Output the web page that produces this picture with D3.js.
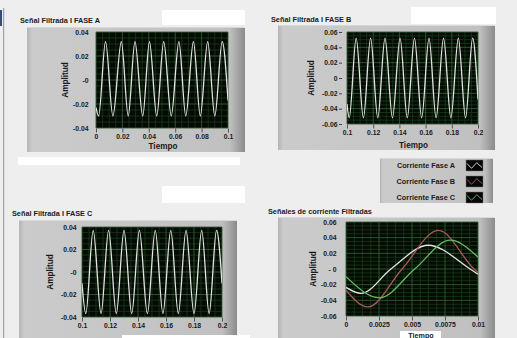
<!DOCTYPE html>
<html><head><meta charset="utf-8">
<script src="https://cdn.jsdelivr.net/npm/d3@7"></script>
<style>
body{margin:0;background:#eeeeee;}
svg{display:block;}
text{font-family:"Liberation Sans",Arial,sans-serif;font-weight:bold;fill:#1a1a1a;}
</style></head>
<body><svg id="c" width="517" height="338"></svg>
<script>
// ---------- DATA ----------
const titles = ["Señal Filtrada I FASE A","Señal Filtrada I FASE B","Señal Filtrada I FASE C","Señales de corriente Filtradas"];
const xLabelText = "Tiempo";
const yLabelText = "Amplitud";

const xTicksA = [0,0.02,0.04,0.06,0.08,0.1];
const xTickLabelsA = ["0","0.02","0.04","0.06","0.08","0.1"];
const yTicksA = [0.04,0.02,0,-0.02,-0.04];
const yTickLabelsA = ["0.04","0.02","-0","-0.02","-0.04"];

const xTicksBC = [0.1,0.12,0.14,0.16,0.18,0.2];
const xTickLabelsBC = ["0.1","0.12","0.14","0.16","0.18","0.2"];
const yTicksB = [0.06,0.04,0.02,0,-0.02,-0.04,-0.06];
const yTickLabelsB = ["0.06","0.04","0.02","0","-0.02","-0.04","-0.06"];
const yTicksC = [0.04,0.02,0,-0.02,-0.04];
const yTickLabelsC = ["0.04","0.02","-0","-0.02","-0.04"];

const xTicksD = [0,0.0025,0.005,0.0075,0.01];
const xTickLabelsD = ["0","0.0025","0.005","0.0075","0.01"];
const yTicksD = [0.06,0.04,0.02,0,-0.02,-0.04,-0.06];
const yTickLabelsD = ["0.06","0.04","0.02","- 0","-0.02","-0.04","-0.06"];

// Fase A (peaks / troughs)
const timeA = [0,0.002,0.0072,0.0128,0.0192,0.0244,0.0295,0.0354,0.0405,0.046,0.0513,0.057,0.0628,0.068,0.0738,0.079,0.0846,0.090,0.0956,0.1];
const valA  = [-0.023,-0.030,0.032,-0.030,0.032,-0.030,0.032,-0.030,0.032,-0.030,0.032,-0.030,0.032,-0.030,0.032,-0.030,0.032,-0.030,0.032,-0.017];
// Fase B
const timeB = [0.1,0.1017,0.107,0.1125,0.118,0.1235,0.129,0.1347,0.1405,0.146,0.1515,0.157,0.1626,0.168,0.1737,0.1793,0.185,0.1905,0.1959,0.2];
const valB  = [-0.034,-0.052,0.052,-0.052,0.052,-0.052,0.052,-0.052,0.052,-0.052,0.052,-0.052,0.052,-0.052,0.052,-0.052,0.052,-0.052,0.052,-0.028];
// Fase C
const timeC = [0.1,0.1027,0.108,0.1136,0.119,0.1245,0.130,0.1355,0.141,0.1467,0.1523,0.1578,0.1634,0.1688,0.1743,0.18,0.1855,0.1908,0.1961,0.2];
const valC  = [-0.010,-0.037,0.037,-0.037,0.037,-0.037,0.037,-0.037,0.037,-0.037,0.037,-0.037,0.037,-0.037,0.037,-0.037,0.037,-0.037,0.037,-0.010];
// Combined (one cycle)
const timeDA = [0,0.00115,0.0034,0.00623,0.0094,0.01];
const valDA  = [-0.0235,-0.0312,0,0.0303,0,-0.0067];
const timeDB = [0,0.00165,0.00425,0.0070,0.0097,0.01];
const valDB  = [-0.027,-0.0484,0,0.0492,0,-0.0045];
const timeDC = [0,0.00255,0.0052,0.00789,0.01];
const valDC  = [-0.0097,-0.0368,0,0.0368,0.0153];

const legendNames = ["Corriente Fase A","Corriente Fase B","Corriente Fase C"];
const seriesColors = ["#e4e4e4","#a85a5a","#66bb66"];
const legendIcon = [[0,0.75],[0.3,0.15],[0.65,0.85],[1,0.25]];

// ---------- DRAW ----------
const svg = d3.select("#c");
const defs = svg.append("defs");
const gr = defs.append("linearGradient").attr("id","frameGrad").attr("x1","0").attr("x2","1").attr("y1","0").attr("y2","0");
[[0,"#b4b4b4"],[0.025,"#cbcbcb"],[0.5,"#c6c6c6"],[0.93,"#c0c0c0"],[0.97,"#a2a2a2"],[1,"#8a8a8a"]].forEach(s=>gr.append("stop").attr("offset",s[0]).attr("stop-color",s[1]));

svg.append("rect").attr("width",517).attr("height",338).attr("fill","#eeeeee");
// left border line
svg.append("rect").attr("x",3).attr("y",8).attr("width",1.2).attr("height",330).attr("fill","#a0a0a8");
svg.append("rect").attr("x",0).attr("y",10).attr("width",2).attr("height",16).attr("fill","#3a4a7a");

// white boxes
[[162,10,83,15],[411,7,85,17],[18,157,222,8],[162,186,83,17]].forEach(b=>
  svg.append("rect").attr("x",b[0]).attr("y",b[1]).attr("width",b[2]).attr("height",b[3]).attr("fill","#ffffff"));

function frame(x,y,w,h){
  svg.append("rect").attr("x",x).attr("y",y).attr("width",w).attr("height",h).attr("fill","url(#frameGrad)");
  svg.append("rect").attr("x",x).attr("y",y).attr("width",w).attr("height",1).attr("fill","#d8d8d8");
}

function panel(cfg){
  frame(cfg.fx,cfg.fy,cfg.fw,cfg.fh);
  svg.append("text").attr("x",cfg.tx).attr("y",cfg.ty).attr("font-size",7.3).text(cfg.title);
  const p = cfg.plot;
  const x = d3.scaleLinear().domain(cfg.xDomain).range([p.x,p.x+p.w]);
  const y = d3.scaleLinear().domain(cfg.yDomain).range([p.y+p.h,p.y]);
  svg.append("rect").attr("x",p.x).attr("y",p.y).attr("width",p.w).attr("height",p.h).attr("fill","#050a05");
  const g = svg.append("g");
  // minor grid
  const xMinor=[],yMinor=[];
  for(let i=0;i<cfg.xTicks.length-1;i++){const a=cfg.xTicks[i],b=cfg.xTicks[i+1];for(let k=1;k<4;k++)xMinor.push(a+(b-a)*k/4);}
  for(let i=0;i<cfg.yTicks.length-1;i++){const a=cfg.yTicks[i],b=cfg.yTicks[i+1];for(let k=1;k<4;k++)yMinor.push(a+(b-a)*k/4);}
  g.selectAll(".xm").data(xMinor).join("line").attr("x1",d=>x(d)).attr("x2",d=>x(d)).attr("y1",p.y).attr("y2",p.y+p.h).attr("stroke","#173a17").attr("stroke-width",0.8);
  g.selectAll(".ym").data(yMinor).join("line").attr("y1",d=>y(d)).attr("y2",d=>y(d)).attr("x1",p.x).attr("x2",p.x+p.w).attr("stroke","#173a17").attr("stroke-width",0.8);
  g.selectAll(".xg").data(cfg.xTicks).join("line").attr("x1",d=>x(d)).attr("x2",d=>x(d)).attr("y1",p.y).attr("y2",p.y+p.h).attr("stroke","#2e5e2e").attr("stroke-width",0.9);
  g.selectAll(".yg").data(cfg.yTicks).join("line").attr("y1",d=>y(d)).attr("y2",d=>y(d)).attr("x1",p.x).attr("x2",p.x+p.w).attr("stroke","#2e5e2e").attr("stroke-width",0.9);
  // series
  const clipId = "clip"+cfg.id;
  defs.append("clipPath").attr("id",clipId).append("rect").attr("x",p.x).attr("y",p.y).attr("width",p.w).attr("height",p.h);
  const line = d3.line().x(d=>x(d[0])).y(d=>y(d[1])).curve(d3.curveMonotoneX);
  cfg.series.forEach(s=>{
    const pts = s.t.map((t,i)=>[t,s.v[i]]);
    svg.append("path").attr("clip-path",`url(#${clipId})`).attr("d",line(pts)).attr("fill","none").attr("stroke",s.color).attr("stroke-width",1.3);
  });
  // axes
  const xa = d3.axisBottom(x).tickValues(cfg.xTicks).tickFormat((d,i)=>cfg.xTickLabels[i]).tickSize(4).tickSizeOuter(0).tickPadding(1.5);
  const gx = svg.append("g").attr("transform",`translate(0,${p.y+p.h+0.5})`).call(xa);
  gx.select(".domain").remove();
  gx.selectAll("line").attr("stroke","#555");
  gx.selectAll("text").attr("font-size",6.8).attr("font-family","Liberation Sans").attr("font-weight","bold").attr("fill","#1a1a1a");
  const ya = d3.axisLeft(y).tickValues(cfg.yTicks).tickFormat((d,i)=>cfg.yTickLabels[i]).tickSize(cfg.ytick).tickSizeOuter(0).tickPadding(1.5);
  const gy = svg.append("g").attr("transform",`translate(${p.x-cfg.yoff},0)`).call(ya);
  gy.select(".domain").remove();
  gy.selectAll("line").attr("stroke","#444");
  gy.selectAll("text").attr("font-size",6.8).attr("font-family","Liberation Sans").attr("font-weight","bold").attr("fill","#1a1a1a");
  // axis titles
  if(cfg.xlY) svg.append("text").attr("x",p.x+p.w/2+1).attr("y",cfg.xlY).attr("text-anchor","middle").attr("font-size",8.2).text(xLabelText);
  svg.append("text").attr("transform",`translate(${cfg.ylX},${p.y+p.h/2})rotate(-90)`).attr("text-anchor","middle").attr("font-size",8.2).text(yLabelText);
}

panel({id:"A",fx:27,fy:27,fw:218,fh:125,tx:20,ty:23,title:titles[0],
  plot:{x:96,y:32,w:132,h:96},xDomain:[0,0.1],yDomain:[-0.04,0.04],
  xTicks:xTicksA,xTickLabels:xTickLabelsA,yTicks:yTicksA,yTickLabels:yTickLabelsA,ytick:0,yoff:6,
  xlY:149,ylX:68,series:[{t:timeA,v:valA,color:seriesColors[0]}]});

panel({id:"B",fx:278,fy:25,fw:217,fh:125,tx:271,ty:22,title:titles[1],
  plot:{x:347,y:32,w:131,h:92},xDomain:[0.1,0.2],yDomain:[-0.06,0.06],
  xTicks:xTicksBC,xTickLabels:xTickLabelsBC,yTicks:yTicksB,yTickLabels:yTickLabelsB,ytick:3,yoff:5,
  xlY:148,ylX:314,series:[{t:timeB,v:valB,color:seriesColors[0]}]});

panel({id:"C",fx:19,fy:220,fw:218,fh:118,tx:12,ty:216,title:titles[2],
  plot:{x:82,y:227,w:140,h:90},xDomain:[0.1,0.2],yDomain:[-0.04,0.04],
  xTicks:xTicksBC,xTickLabels:xTickLabelsBC,yTicks:yTicksC,yTickLabels:yTickLabelsC,ytick:0,yoff:4,
  xlY:null,ylX:53,series:[{t:timeC,v:valC,color:seriesColors[0]}]});

// white box below C's axis
svg.append("rect").attr("x",122).attr("y",335).attr("width",128).attr("height",3).attr("fill","#ffffff");

panel({id:"D",fx:278,fy:217,fw:217,fh:121,tx:268,ty:214,title:titles[3],
  plot:{x:346,y:222,w:132,h:94},xDomain:[0,0.01],yDomain:[-0.06,0.06],
  xTicks:xTicksD,xTickLabels:xTickLabelsD,yTicks:yTicksD,yTickLabels:yTickLabelsD,ytick:0,yoff:8,
  xlY:null,ylX:316,series:[
    {t:timeDA,v:valDA,color:seriesColors[0]},
    {t:timeDB,v:valDB,color:seriesColors[1]},
    {t:timeDC,v:valDC,color:seriesColors[2]}]});

// Tiempo label box of D
svg.append("rect").attr("x",400).attr("y",331).attr("width",41).attr("height",7).attr("fill","#ffffff");
svg.append("text").attr("x",421).attr("y",337.5).attr("text-anchor","middle").attr("font-size",7.2).text(xLabelText);

// legend
frame(380,158,113,45);
const iconX = d3.scaleLinear().domain([0,1]).range([0,15]);
const iconY = d3.scaleLinear().domain([0,1]).range([9,1]);
const iconLine = d3.line().x(d=>iconX(d[0])).y(d=>iconY(d[1]));
legendNames.forEach((n,i)=>{
  const cy = 165+i*16;
  svg.append("text").attr("x",455).attr("y",cy+2.5).attr("text-anchor","end").attr("font-size",7.3).text(n);
  const g = svg.append("g").attr("transform",`translate(466,${cy-5})`);
  g.append("rect").attr("width",17).attr("height",11).attr("fill","#050505").attr("stroke","#777").attr("stroke-width",0.5);
  g.append("path").attr("transform","translate(1,0.5)").attr("d",iconLine(legendIcon)).attr("fill","none").attr("stroke",seriesColors[i]).attr("stroke-width",0.9);
});
</script></body></html>
